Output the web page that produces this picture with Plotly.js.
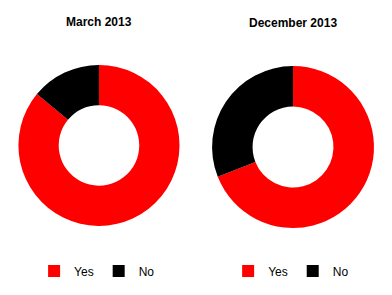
<!DOCTYPE html>
<html><head><meta charset="utf-8">
<script src="https://cdn.plot.ly/plotly-3.0.1.min.js"></script>
<style>html,body{margin:0;padding:0;background:#fff}</style>
</head><body><div id="chart" style="width:392px;height:295px"></div>
<script>
const labels = ["Yes", "No"];
const colors = ["#ff0000", "#000000"];
const titles = ["March 2013", "December 2013"];
const march2013 = [86, 14];
const december2013 = [69, 31];

const common = {
  type: "pie", labels: labels, sort: false, direction: "clockwise", rotation: 0,
  hole: 0.5, textinfo: "none", hoverinfo: "label+percent",
  marker: {colors: colors, line: {width: 0}}
};
const data = [
  Object.assign({}, common, {values: march2013, name: titles[0], legendgroup: "m",
    domain: {x: [0.046, 0.459], y: [0.234, 0.780]}, legend: "legend"}),
  Object.assign({}, common, {values: december2013, name: titles[1], legendgroup: "d",
    domain: {x: [0.541, 0.954], y: [0.227, 0.776]}, legend: "legend2"})
];
const legendStyle = {orientation: "h", traceorder: "normal",
  font: {family: "Liberation Sans, Arial", size: 12, color: "#000"},
  xanchor: "left", yanchor: "middle", itemwidth: 30, tracegroupgap: 0, bgcolor: "rgba(0,0,0,0)"};
const layout = {
  width: 392, height: 295, margin: {l: 0, r: 0, t: 0, b: 0},
  paper_bgcolor: "#fff", showlegend: true,
  legend: Object.assign({}, legendStyle, {x: 0.087, y: 0.081}),
  legend2: Object.assign({}, legendStyle, {x: 0.582, y: 0.081}),
  annotations: [
    {text: "<b>" + titles[0] + "</b>", x: 0.253, y: 0.924, xref: "paper", yref: "paper",
     xanchor: "center", yanchor: "middle",
     showarrow: false, font: {family: "Liberation Sans, Arial", size: 12, color: "#000"}},
    {text: "<b>" + titles[1] + "</b>", x: 0.747, y: 0.921, xref: "paper", yref: "paper",
     xanchor: "center", yanchor: "middle",
     showarrow: false, font: {family: "Liberation Sans, Arial", size: 12, color: "#000"}}
  ]
};
Plotly.newPlot("chart", data, layout, {displayModeBar: false, staticPlot: true});
</script></body></html>
